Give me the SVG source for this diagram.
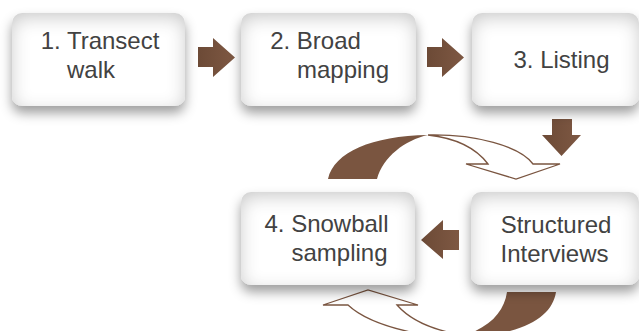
<svg xmlns="http://www.w3.org/2000/svg" width="639" height="331" viewBox="0 0 639 331">
<defs>
<style>
.box{fill:#ffffff;filter:url(#boxf);}
.lbl{font-family:"Liberation Sans",Arial,sans-serif;font-size:24px;fill:#424242;text-anchor:middle;}
.arr{fill:url(#brown);}
.outl{fill:#ffffff;stroke:#7a5540;stroke-width:1.3;stroke-linejoin:miter;}
.solid{fill:#7a5540;}
</style>
<linearGradient id="brown" x1="0" y1="0" x2="1" y2="0">
<stop offset="0" stop-color="#6c4a36"/>
<stop offset="1" stop-color="#7e5843"/>
</linearGradient>
<filter id="boxf" x="-20%" y="-25%" width="140%" height="165%">
<feGaussianBlur in="SourceAlpha" stdDeviation="6" result="b"/>
<feOffset in="b" dy="7" result="o"/>
<feFlood flood-color="#000" flood-opacity="0.38"/>
<feComposite in2="o" operator="in" result="shadow"/>
<feGaussianBlur in="SourceAlpha" stdDeviation="9" result="ib"/>
<feOffset in="ib" dy="5" result="io"/>
<feComposite in="SourceAlpha" in2="io" operator="out" result="inv"/>
<feFlood flood-color="#000" flood-opacity="0.42"/>
<feComposite in2="inv" operator="in" result="inner"/>
<feMerge><feMergeNode in="shadow"/><feMergeNode in="SourceGraphic"/><feMergeNode in="inner"/></feMerge>
</filter>
</defs>
<g id="connectors">
<path class="arr" d="M198,47 L213,47 L213,38 L235,57.5 L213,77 L213,67 L198,67 Z"/>
<path class="arr" d="M427,47 L442,47 L442,38 L464,57.5 L442,77 L442,67 L427,67 Z"/>
<path class="arr" d="M552,119 L572,119 L572,135 L581,135 L561.5,156 L542,135 L552,135 Z"/>
<path class="arr" d="M459,230 L443,230 L443,220 L421,240 L443,259 L443,250 L459,250 Z"/>
<path class="solid" d="M328,179 C334,152 372,136 428,135 C405,140 383,157 377,179 Z"/>
<path class="outl" d="M428,135 C475,134 520,146 533,164 L560,164 L516,179 L466,164 L488,164 C476,148 455,138 428,135 Z"/>
<path class="solid" d="M507,292 L556,292 C552,318 522,336 455,338 C488,330 504,313 507,292 Z"/>
<path class="outl" d="M348,305 L323,305 L368,290 L418,305 L397,305 C412,322 438,332 470,336 L445,338 C400,332 365,321 348,305 Z"/>
</g>
<g id="node1">
<rect class="box" x="12" y="13" width="173" height="93" rx="10"/>
<text class="lbl" x="100" y="49">1. Transect</text>
<text class="lbl" x="91" y="78">walk</text>
</g>
<g id="node2">
<rect class="box" x="241" y="13" width="175" height="93" rx="10"/>
<text class="lbl" x="315.5" y="49">2. Broad</text>
<text class="lbl" x="343" y="78">mapping</text>
</g>
<g id="node3">
<rect class="box" x="472" y="13" width="167" height="93" rx="10"/>
<text class="lbl" x="561.5" y="68">3. Listing</text>
</g>
<g id="node4">
<rect class="box" x="241" y="192" width="174" height="93" rx="10"/>
<text class="lbl" x="326.5" y="232">4. Snowball</text>
<text class="lbl" x="339.5" y="261">sampling</text>
</g>
<g id="node5">
<rect class="box" x="471" y="192" width="168" height="93" rx="10"/>
<text class="lbl" x="556" y="233">Structured</text>
<text class="lbl" x="554.5" y="262">Interviews</text>
</g>
</svg>
